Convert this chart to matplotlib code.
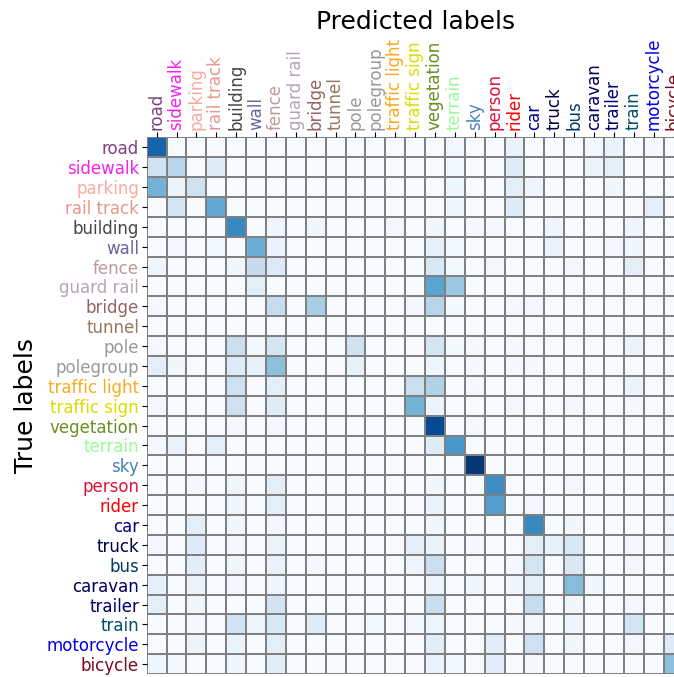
import matplotlib
matplotlib.use("Agg")
import matplotlib.pyplot as plt
import numpy as np

# Cityscapes classes and their palette colours (RGB 0-255)
classes = [
    "road", "sidewalk", "parking", "rail track", "building", "wall", "fence",
    "guard rail", "bridge", "tunnel", "pole", "polegroup", "traffic light",
    "traffic sign", "vegetation", "terrain", "sky", "person", "rider", "car",
    "truck", "bus", "caravan", "trailer", "train", "motorcycle", "bicycle",
]
class_rgb = [
    (128, 64, 128), (244, 35, 232), (250, 170, 160), (230, 150, 140),
    (70, 70, 70), (102, 102, 156), (190, 153, 153), (180, 165, 180),
    (150, 100, 100), (150, 120, 90), (153, 153, 153), (153, 153, 153),
    (250, 170, 30), (220, 220, 0), (107, 142, 35), (152, 251, 152),
    (70, 130, 180), (220, 20, 60), (255, 0, 0), (0, 0, 142), (0, 0, 70),
    (0, 60, 100), (0, 0, 90), (0, 0, 110), (0, 80, 100), (0, 0, 230),
    (119, 11, 32),
]

# row-normalised confusion matrix (rows = true, cols = predicted)
conf = [
    [.80, 0, 0, 0, 0, 0, 0, 0, 0, 0, 0, 0, 0, 0, 0, .03, 0, 0, .07, 0, 0, 0, .03, .07, 0, .02, 0],
    [.20, .30, 0, .12, 0, 0, 0, 0, 0, 0, 0, 0, 0, 0, 0, .03, 0, 0, .12, 0, 0, 0, .06, .09, 0, 0, 0],
    [.48, .06, .20, 0, 0, 0, 0, 0, 0, 0, 0, 0, 0, 0, 0, .04, 0, 0, .10, .05, 0, 0, 0, .04, 0, 0, 0],
    [0, .18, 0, .52, 0, 0, 0, 0, 0, 0, 0, 0, 0, 0, 0, .04, 0, 0, .13, 0, 0, 0, 0, 0, 0, .09, 0],
    [0, 0, 0, 0, .66, 0, .05, 0, .04, 0, 0, 0, .03, 0, .04, 0, .02, .02, 0, 0, .05, 0, 0, 0, .05, 0, 0],
    [0, .03, 0, .03, 0, .50, .07, 0, 0, 0, 0, 0, 0, 0, .08, .03, 0, 0, 0, 0, .07, 0, 0, .03, .04, 0, 0],
    [.05, 0, 0, 0, .04, .25, .14, 0, 0, 0, 0, 0, 0, 0, .15, .02, 0, .03, 0, 0, 0, .03, 0, 0, .10, 0, 0],
    [0, 0, 0, 0, 0, .10, 0, 0, 0, 0, 0, 0, 0, 0, .55, .38, 0, 0, 0, 0, 0, 0, 0, 0, 0, 0, 0],
    [.02, 0, 0, 0, 0, 0, .24, 0, .35, 0, 0, 0, 0, .03, .30, .02, 0, 0, .02, .03, 0, 0, 0, 0, 0, 0, 0],
    [0, 0, 0, 0, 0, 0, 0, 0, 0, 0, 0, 0, 0, 0, 0, 0, 0, 0, 0, 0, 0, 0, 0, 0, 0, 0, 0],
    [.02, 0, 0, 0, .22, .03, .17, 0, 0, 0, .20, 0, 0, 0, .18, .02, .02, 0, .02, 0, 0, 0, 0, 0, .06, 0, 0],
    [.10, .04, 0, 0, .13, .08, .42, 0, 0, 0, .08, 0, 0, 0, .05, 0, .02, 0, .02, .02, 0, 0, 0, 0, 0, 0, 0],
    [0, 0, 0, 0, .21, 0, .10, 0, 0, 0, 0, 0, 0, .22, .32, 0, .02, 0, 0, 0, 0, 0, 0, 0, .06, 0, 0],
    [.03, 0, 0, 0, .21, 0, .12, 0, 0, 0, 0, 0, 0, .48, .06, 0, 0, 0, .03, 0, 0, .03, 0, 0, .02, 0, 0],
    [0, 0, 0, 0, .03, 0, .03, 0, 0, 0, 0, 0, 0, 0, .90, 0, .02, 0, 0, 0, 0, 0, 0, 0, 0, 0, 0],
    [.02, .07, 0, .10, 0, 0, 0, 0, 0, 0, 0, 0, 0, 0, .12, .60, 0, 0, 0, 0, 0, 0, 0, 0, 0, 0, 0],
    [0, 0, 0, 0, 0, 0, 0, 0, 0, 0, 0, 0, 0, 0, 0, 0, .97, 0, 0, 0, 0, 0, 0, 0, 0, 0, 0],
    [0, 0, .02, 0, .05, 0, .10, 0, 0, 0, 0, 0, 0, 0, .04, 0, 0, .64, 0, 0, 0, .03, 0, 0, 0, 0, 0],
    [0, 0, 0, 0, .05, 0, .10, 0, 0, 0, 0, 0, 0, 0, .07, 0, 0, .57, 0, .03, 0, 0, 0, 0, 0, 0, .04],
    [0, 0, .10, 0, .04, 0, .03, 0, 0, 0, 0, 0, 0, 0, .04, 0, 0, 0, 0, .66, 0, .04, 0, 0, 0, 0, .03],
    [.03, 0, .13, 0, .03, 0, .06, 0, 0, 0, 0, 0, 0, .10, .07, 0, .02, 0, 0, .10, .08, .15, 0, 0, .03, 0, .05],
    [0, 0, .11, 0, .05, 0, .07, 0, .02, 0, 0, 0, 0, .05, .22, 0, 0, 0, .02, .18, 0, .15, 0, 0, .03, 0, 0],
    [.09, 0, .06, 0, .03, 0, .05, 0, 0, 0, 0, 0, 0, 0, .05, 0, .04, 0, .04, .09, 0, .43, .04, 0, 0, 0, 0],
    [.10, 0, .04, 0, 0, 0, .19, 0, 0, 0, 0, 0, 0, 0, .23, 0, 0, 0, 0, .24, 0, .04, 0, 0, .03, 0, 0],
    [0, 0, .02, 0, .19, .04, .15, 0, .12, 0, 0, .02, 0, .02, .05, 0, 0, 0, .02, .03, 0, .05, 0, 0, .18, 0, 0],
    [0, 0, .06, 0, .06, 0, .10, 0, 0, 0, 0, 0, 0, 0, .11, 0, 0, .11, 0, .21, 0, .04, 0, 0, .03, 0, .13],
    [.04, .02, 0, 0, .04, 0, .11, 0, 0, 0, 0, 0, 0, 0, .07, .02, 0, .11, 0, .02, 0, 0, 0, 0, 0, 0, .42],
]

cm = np.array(conf)
n = len(classes)
colors = [tuple(c / 255 for c in rgb) for rgb in class_rgb]

fig = plt.figure(figsize=(6.74, 6.77), dpi=100)
# grid runs slightly past the right edge of the canvas
ax = fig.add_axes([146.7 / 674, 2.9 / 677, 536.8 / 674, 536.8 / 677])

ax.pcolormesh(cm, cmap="Blues", vmin=0, vmax=1, edgecolors="grey", linewidth=1.2)
ax.set_xlim(0, n)
ax.set_ylim(n, 0)
for s in ax.spines.values():
    s.set_visible(False)

ticks = np.arange(n) + 0.5
ax.set_xticks(ticks)
ax.set_yticks(ticks)
ax.xaxis.tick_top()
ax.set_xticklabels(classes, rotation=90, fontsize=12)
ax.set_yticklabels(classes, fontsize=12)
ax.tick_params(length=3.5, pad=2)
for lbl, c in zip(ax.get_xticklabels(), colors):
    lbl.set_color(c)
for lbl, c in zip(ax.get_yticklabels(), colors):
    lbl.set_color(c)

ax.xaxis.set_label_position("top")
ax.set_xlabel("Predicted labels", fontsize=18, labelpad=6)
ax.set_ylabel("True labels", fontsize=18, labelpad=6)

fig.savefig("out.png", dpi=100)
